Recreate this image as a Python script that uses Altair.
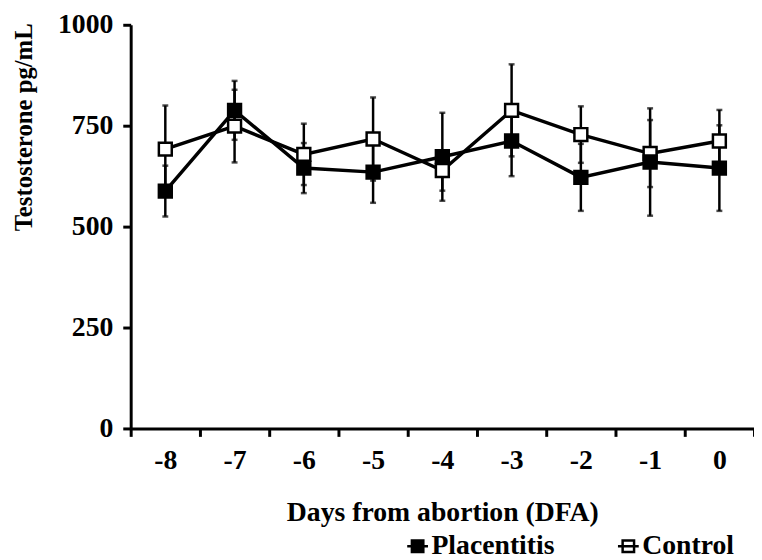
import altair as alt
import pandas as pd

days = ["-8", "-7", "-6", "-5", "-4", "-3", "-2", "-1", "0"]
series_names = ["Placentitis", "Control"]
placentitis_mean = [588, 788, 645, 635, 673, 712, 622, 660, 645]
placentitis_se = [63, 73, 62, 76, 109, 87, 83, 133, 106]
control_mean = [692, 749, 679, 717, 639, 788, 728, 681, 712]
control_se = [108, 90, 76, 103, 50, 114, 70, 83, 77]
y_ticks = [0, 250, 500, 750, 1000]

rows = []
for name, means, ses in [("Control", control_mean, control_se),
                         ("Placentitis", placentitis_mean, placentitis_se)]:
    for d, m, s in zip(days, means, ses):
        rows.append({"day": d, "series": name, "mean": m, "se": s,
                     "lo": m - s, "hi": m + s})
df = pd.DataFrame(rows)

FONT = "Liberation Serif"

x_enc = alt.X("day:O", sort=days,
              scale=alt.Scale(type="band", paddingInner=0, paddingOuter=0),
              axis=alt.Axis(title="Days from abortion (DFA)", labelAngle=0,
                            tickBand="extent", titleY=93,
                            titleBaseline="alphabetic", labelPadding=10))
y_scale = alt.Scale(domain=[0, 1000], nice=False)
y_axis = alt.Axis(title="Testosterone pg/mL", values=y_ticks, format="d",
                  titleX=-108, titleY=-2, titleAlign="right", titleAngle=-90,
                  titleBaseline="middle", titleFontSize=25, labelPadding=10)

base = alt.Chart(df)

lines = base.mark_line(strokeWidth=3.5, color="black").encode(
    x=x_enc,
    y=alt.Y("mean:Q", scale=y_scale, axis=y_axis),
    detail="series:N",
)

bars = base.mark_rule(strokeWidth=2.5, color="black").encode(
    x=x_enc, y=alt.Y("lo:Q", scale=y_scale), y2="hi:Q"
)
caps_hi = base.mark_tick(size=6, thickness=2.5, color="black").encode(
    x=x_enc, y=alt.Y("hi:Q", scale=y_scale)
)
caps_lo = base.mark_tick(size=6, thickness=2.5, color="black").encode(
    x=x_enc, y=alt.Y("lo:Q", scale=y_scale)
)

points = base.mark_point(shape="square", size=170, strokeWidth=2.5,
                         stroke="black", opacity=1, filled=False).encode(
    x=x_enc,
    y=alt.Y("mean:Q", scale=y_scale),
    fill=alt.Fill("series:N",
                  scale=alt.Scale(domain=series_names, range=["black", "white"]),
                  legend=alt.Legend(
                      title=None, orient="none", direction="horizontal",
                      legendX=276, legendY=513, padding=0,
                      symbolType="M-1,0L1,0M-0.55,-0.55L0.55,-0.55L0.55,0.55L-0.55,0.55Z",
                      symbolSize=441, symbolStrokeColor="black",
                      symbolStrokeWidth=2.5, symbolFillColor="black",
                      labelOffset=0, columnPadding=58,
                      labelFont=FONT, labelFontSize=28, labelFontWeight="bold",
                      labelColor="black")),
    order=alt.Order("series:N"),
)

chart = alt.layer(lines, bars, caps_hi, caps_lo, points).properties(
    width=630, height=408,
    autosize=alt.AutoSizeParams(type="none"),
    padding={"left": 124, "top": 14, "right": 0, "bottom": 130},
).configure_view(stroke=None).configure_axis(
    domainColor="black", domainWidth=3, tickColor="black", tickWidth=3,
    tickSize=8, grid=False, labelFont=FONT, labelFontSize=28,
    labelFontWeight="bold", labelColor="black", titleFont=FONT,
    titleFontSize=28, titleFontWeight="bold", titleColor="black",
)

chart.save("out.html", embed_options={"renderer": "svg", "actions": False})
